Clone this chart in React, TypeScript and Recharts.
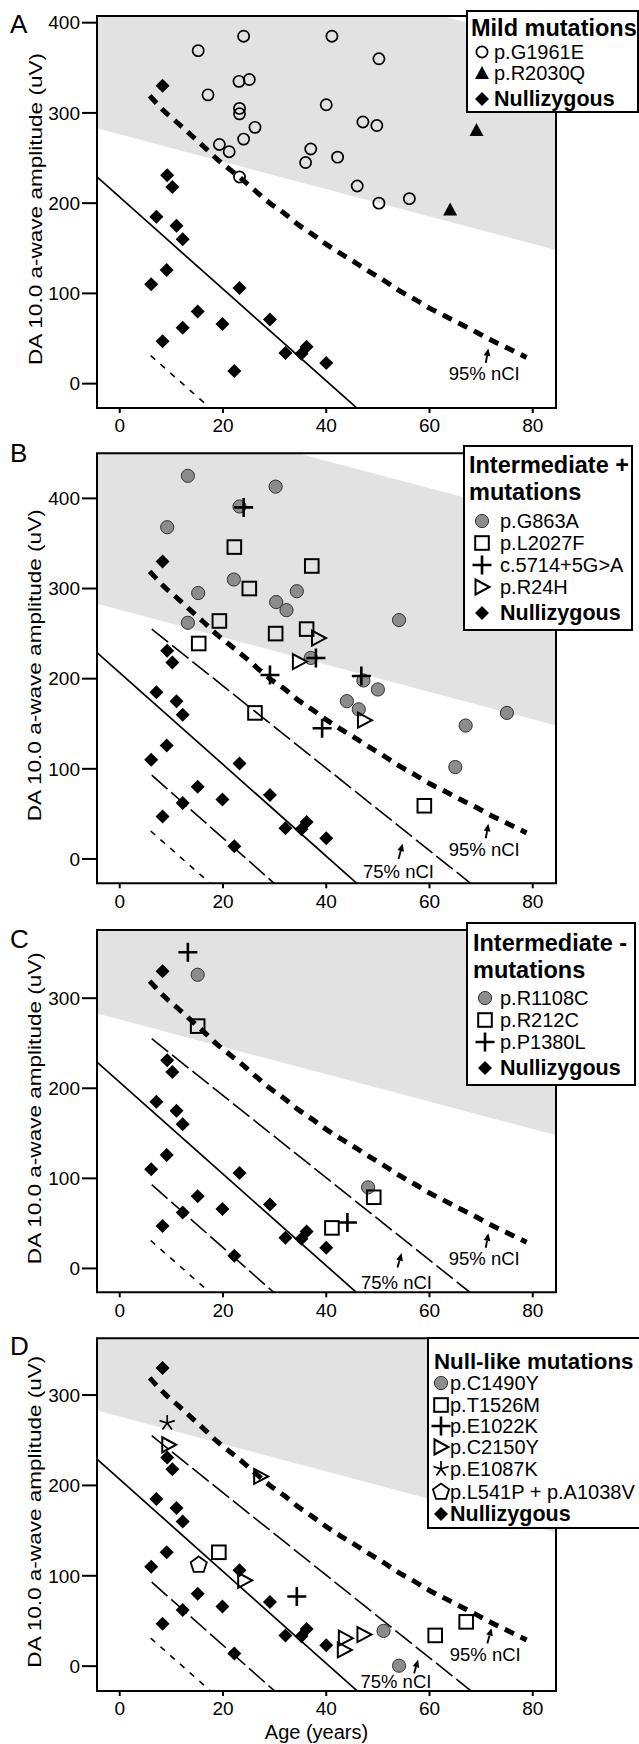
import React from 'react';
import {
  ComposedChart,
  Scatter,
  Line,
  Area,
  XAxis,
  YAxis,
  ReferenceArea,
  ReferenceDot,
  ReferenceLine,
  Legend,
} from 'recharts';

const FONT = '"Liberation Sans", Arial, Helvetica, sans-serif';
const X_DOMAIN = [-4.4, 84.5];
const X_TICKS = [0, 20, 40, 60, 80];

// normal range band (edges at the x-domain limits)
const bandAge = [-4.4, 84.5];
const bandLow = [283, 148];
const bandHigh = [509, 374];

// reference lines
const solidAge = [-4.4, 46.5];
const solidAmp = [229, -30];
const shortDashAge = [6, 18.1];
const shortDashAmp = [31, -30];
const longUpperAge = [6.2, 68.6];
const longUpperAmp = [255, -30];
const longLowerAge = [6.2, 30.5];
const longLowerAmp = [93, -30];
const ci95Age = [5.8, 8.8, 11.4, 13.9, 16.4, 18.8, 21.4, 24, 26.6, 29.1, 31.8, 34.4, 37.2, 40.1, 42.8, 45.4, 48.1, 51, 53.9, 57, 59.9, 63, 66, 69.1, 72, 74.9, 78.8];
const ci95Amp = [319, 301, 288, 275, 262, 249, 237, 225, 212, 200, 189, 177, 166, 154, 144, 135, 125, 115, 104, 94, 84, 75, 66, 57, 48, 40, 29];

// nullizygous (all panels)
const nullAge = [8.3, 9.2, 10.2, 7.1, 11, 12.2, 9.1, 6.1, 23.2, 15.1, 19.9, 12.2, 29.1, 8.3, 22.2, 32.1, 35.2, 36.2, 40];
const nullAmp = [330, 231, 218, 185, 175, 160, 126, 110, 106, 80, 66, 62, 71, 47, 14, 34, 33, 41, 23];

// A: mild
const g1961eAge = [15.2, 24, 41.1, 50.2, 23.1, 25.1, 17.1, 40, 23.2, 23.2, 26.2, 47.1, 49.8, 19.3, 21.2, 24, 37, 36, 42.2, 23.2, 46, 50.2, 56.1];
const g1961eAmp = [369, 385, 385, 360, 335, 337, 320, 309, 305, 299, 284, 290, 286, 265, 257, 271, 260, 245, 251, 229, 219, 200, 205];
const r2030qAge = [69.1, 64];
const r2030qAmp = [281, 193];

// B: intermediate +
const g863aAge = [13.2, 30.2, 23.2, 9.2, 22.1, 15.2, 34.3, 30.3, 32.3, 13.2, 54.1, 37, 47.2, 50, 44, 46.3, 67, 75, 65];
const g863aAmp = [425, 413, 391, 368, 310, 295, 297, 285, 276, 262, 265, 223, 198, 188, 175, 166, 148, 162, 102];
const l2027fAge = [22.2, 37.2, 25.1, 19.3, 15.3, 30.2, 36.2, 26.2, 59];
const l2027fAmp = [346, 325, 300, 264, 239, 250, 255, 162, 59];
const c5714Age = [24, 29.1, 38, 46.8, 39.2];
const c5714Amp = [390, 204, 223, 203, 145];
const r24hAge = [38.5, 34.8, 47.4];
const r24hAmp = [245, 219, 154];

// C: intermediate -
const r1108cAge = [15.1, 48.1];
const r1108cAmp = [326, 90];
const r212cAge = [15.1, 49.2, 41.1];
const r212cAmp = [269, 79, 45];
const p1380lAge = [13.2, 44.1];
const p1380lAmp = [351, 51];

// D: null-like
const c1490yAge = [51.1, 54.1];
const c1490yAmp = [39, 0.5];
const t1526mAge = [19.2, 61.1, 67.1];
const t1526mAmp = [126, 34, 49];
const e1022kAge = [34.3];
const e1022kAmp = [77];
const c2150yAge = [9.5, 27.3, 24.2, 43.7, 43.5, 47.3];
const c2150yAmp = [245, 210, 95, 31, 18, 35];
const e1087kAge = [9.2];
const e1087kAmp = [269];
const l541pAge = [15.3];
const l541pAmp = [112];

const pts = (ages: number[], amps: number[]) => ages.map((a, i) => ({ age: a, amp: amps[i] }));
const bandData = bandAge.map((a, i) => ({ age: a, band: [bandLow[i], bandHigh[i]] }));

function Marker({ kind, cx, cy }: { kind: string; cx: number; cy: number }) {
  switch (kind) {
    case 'openCircle':
      return <circle cx={cx} cy={cy} r={5.6} fill="none" stroke="#000" strokeWidth={1.7} />;
    case 'grayCircle':
      return <circle cx={cx} cy={cy} r={6.6} fill="#8c8c8c" stroke="#333" strokeWidth={1} />;
    case 'triangle':
      return <polygon points={`${cx},${cy - 7} ${cx + 7},${cy + 6} ${cx - 7},${cy + 6}`} fill="#000" />;
    case 'diamond':
      return <polygon points={`${cx},${cy - 7} ${cx + 7},${cy} ${cx},${cy + 7} ${cx - 7},${cy}`} fill="#000" />;
    case 'square':
      return <rect x={cx - 6.8} y={cy - 6.8} width={13.6} height={13.6} fill="none" stroke="#000" strokeWidth={2} />;
    case 'plus':
      return <path d={`M${cx - 9.5},${cy}H${cx + 9.5}M${cx},${cy - 9.5}V${cy + 9.5}`} stroke="#000" strokeWidth={2.6} fill="none" />;
    case 'rightTri':
      return <polygon points={`${cx - 6.5},${cy - 7.5} ${cx + 7.5},${cy} ${cx - 6.5},${cy + 7.5}`} fill="none" stroke="#000" strokeWidth={2} />;
    case 'star': {
      const arms = [-90, -18, 54, 126, 198].map((deg) => {
        const r = (deg * Math.PI) / 180;
        return `M${cx},${cy}L${cx + 8 * Math.cos(r)},${cy + 8 * Math.sin(r)}`;
      });
      return <path d={arms.join('')} stroke="#000" strokeWidth={1.7} fill="none" />;
    }
    case 'pentagon': {
      const p = [-90, -18, 54, 126, 198]
        .map((deg) => {
          const r = (deg * Math.PI) / 180;
          return `${cx + 8.5 * Math.cos(r)},${cy + 8.5 * Math.sin(r)}`;
        })
        .join(' ');
      return <polygon points={p} fill="none" stroke="#000" strokeWidth={1.8} />;
    }
    default:
      return null;
  }
}

const ArrowShape = (props: any) => {
  const { x1, y1, x2, y2 } = props;
  const ang = Math.atan2(y2 - y1, x2 - x1);
  const len = 7.5;
  const w = 3.4;
  const bx = x2 - len * Math.cos(ang);
  const by = y2 - len * Math.sin(ang);
  const px = -Math.sin(ang) * w;
  const py = Math.cos(ang) * w;
  return (
    <g>
      <line x1={x1} y1={y1} x2={bx} y2={by} stroke="#000" strokeWidth={1.9} />
      <polygon points={`${x2},${y2} ${bx + px},${by + py} ${bx - px},${by - py}`} fill="#000" />
    </g>
  );
};

const renderYLabel = (props: any) => {
  const vb = props.viewBox;
  const cx = vb.x + 18;
  const cy = vb.y + vb.height / 2 - 3;
  return (
    <text
      x={cx}
      y={cy}
      transform={`rotate(-90 ${cx} ${cy})`}
      textAnchor="middle"
      dominantBaseline="central"
      fontSize={19}
      fontFamily={FONT}
      fill="#000"
      textLength={312}
      lengthAdjust="spacingAndGlyphs"
    >
      DA 10.0 a-wave amplitude (uV)
    </text>
  );
};

const renderXLabel = (props: any) => {
  const vb = props.viewBox;
  return (
    <text x={vb.x + vb.width / 2 - 10} y={vb.y + 48} textAnchor="middle" fontSize={20} fontFamily={FONT} fill="#000">
      Age (years)
    </text>
  );
};

type Item = { kind: string; label: string; y: number; bold?: boolean };
type LegendSpec = {
  x: number; y: number; w: number; h: number;
  titleX: number; titleSize: number; titles: { text: string; y: number }[];
  symX: number; textX: number; items: Item[];
};

function LegendBox({ spec }: { spec: LegendSpec }) {
  const ox = spec.x + 2;
  const oy = spec.y + 2;
  return (
    <div
      style={{
        position: 'relative',
        width: spec.w,
        height: spec.h,
        boxSizing: 'border-box',
        border: '2px solid #000',
        background: '#fff',
        fontFamily: FONT,
        color: '#000',
      }}
    >
      {spec.titles.map((t) => (
        <div
          key={t.text}
          style={{
            position: 'absolute', left: spec.titleX - ox, top: t.y - oy - 14,
            fontSize: spec.titleSize, fontWeight: 700, lineHeight: '28px', whiteSpace: 'nowrap',
          }}
        >
          {t.text}
        </div>
      ))}
      {spec.items.map((it) => (
        <React.Fragment key={it.label}>
          <svg width={22} height={22} style={{ position: 'absolute', left: spec.symX - ox - 11, top: it.y - oy - 11 }}>
            <Marker kind={it.kind} cx={11} cy={11} />
          </svg>
          <div
            style={{
              position: 'absolute', left: spec.textX - ox, top: it.y - oy - 12,
              fontSize: it.bold ? 21.5 : 20, fontWeight: it.bold ? 700 : 400, lineHeight: '24px', whiteSpace: 'nowrap',
            }}
          >
            {it.label}
          </div>
        </React.Fragment>
      ))}
    </div>
  );
}

type Series = { name: string; kind: string; data: { age: number; amp: number }[] };
type Ann = { label: string; text: number[]; tail: number[]; tip: number[] };
type PanelSpec = {
  letter: string; letterTop: number;
  top: number; height: number; marginTop: number; axisH: number;
  yDomain: number[]; yTicks: number[];
  longLines: boolean; ageLabel: boolean;
  series: Series[]; legend: LegendSpec; anns: Ann[];
};

const nullSeries: Series = { name: 'Nullizygous', kind: 'diamond', data: pts(nullAge, nullAmp) };

const panels: PanelSpec[] = [
  {
    letter: 'A', letterTop: 11, top: 0, height: 436, marginTop: 16, axisH: 28,
    yDomain: [-27, 407.4], yTicks: [0, 100, 200, 300, 400], longLines: false, ageLabel: false,
    series: [
      { name: 'p.G1961E', kind: 'openCircle', data: pts(g1961eAge, g1961eAmp) },
      { name: 'p.R2030Q', kind: 'triangle', data: pts(r2030qAge, r2030qAmp) },
      nullSeries,
    ],
    legend: {
      x: 466, y: 10, w: 173, h: 103, titleX: 471, titleSize: 23.5, titles: [{ text: 'Mild mutations', y: 27.5 }],
      symX: 482, textX: 494,
      items: [
        { kind: 'openCircle', label: 'p.G1961E', y: 51.7 },
        { kind: 'triangle', label: 'p.R2030Q', y: 72.7 },
        { kind: 'diamond', label: 'Nullizygous', y: 99, bold: true },
      ],
    },
    anns: [{ label: '95% nCI', text: [70.6, 11], tail: [70.9, 23], tip: [71.4, 39] }],
  },
  {
    letter: 'B', letterTop: 440, top: 436, height: 476, marginTop: 17.3, axisH: 28.7,
    yDomain: [-27, 450], yTicks: [0, 100, 200, 300, 400], longLines: true, ageLabel: false,
    series: [
      { name: 'p.G863A', kind: 'grayCircle', data: pts(g863aAge, g863aAmp) },
      { name: 'p.L2027F', kind: 'square', data: pts(l2027fAge, l2027fAmp) },
      { name: 'c.5714+5G>A', kind: 'plus', data: pts(c5714Age, c5714Amp) },
      { name: 'p.R24H', kind: 'rightTri', data: pts(r24hAge, r24hAmp) },
      nullSeries,
    ],
    legend: {
      x: 463.3, y: 9, w: 170, h: 186, titleX: 469, titleSize: 23.5,
      titles: [{ text: 'Intermediate +', y: 29 }, { text: 'mutations', y: 55.7 }],
      symX: 482, textX: 500,
      items: [
        { kind: 'grayCircle', label: 'p.G863A', y: 84.7 },
        { kind: 'square', label: 'p.L2027F', y: 107.3 },
        { kind: 'plus', label: 'c.5714+5G>A', y: 129 },
        { kind: 'rightTri', label: 'p.R24H', y: 150.7 },
        { kind: 'diamond', label: 'Nullizygous', y: 177.3, bold: true },
      ],
    },
    anns: [
      { label: '95% nCI', text: [70.6, 11], tail: [70.9, 23], tip: [71.4, 39] },
      { label: '75% nCI', text: [54, -14], tail: [54, 0], tip: [54.8, 17] },
    ],
  },
  {
    letter: 'C', letterTop: 926, top: 912, height: 408, marginTop: 18, axisH: 27.7,
    yDomain: [-26.5, 375.7], yTicks: [0, 100, 200, 300], longLines: true, ageLabel: false,
    series: [
      { name: 'p.R1108C', kind: 'grayCircle', data: pts(r1108cAge, r1108cAmp) },
      { name: 'p.R212C', kind: 'square', data: pts(r212cAge, r212cAmp) },
      { name: 'p.P1380L', kind: 'plus', data: pts(p1380lAge, p1380lAmp) },
      nullSeries,
    ],
    legend: {
      x: 465.8, y: 10.3, w: 170, h: 164, titleX: 473, titleSize: 23.5,
      titles: [{ text: 'Intermediate -', y: 31.3 }, { text: 'mutations', y: 58 }],
      symX: 485, textX: 500,
      items: [
        { kind: 'grayCircle', label: 'p.R1108C', y: 86.3 },
        { kind: 'square', label: 'p.R212C', y: 108 },
        { kind: 'plus', label: 'p.P1380L', y: 129.7 },
        { kind: 'diamond', label: 'Nullizygous', y: 155.7, bold: true },
      ],
    },
    anns: [
      { label: '95% nCI', text: [70.6, 11], tail: [70.9, 23], tip: [71.4, 39] },
      { label: '75% nCI', text: [53.6, -16], tail: [53.8, 1], tip: [54.6, 17] },
    ],
  },
  {
    letter: 'D', letterTop: 1333, top: 1320, height: 424, marginTop: 18.3, axisH: 53,
    yDomain: [-27.5, 362.8], yTicks: [0, 100, 200, 300], longLines: true, ageLabel: true,
    series: [
      { name: 'p.C1490Y', kind: 'grayCircle', data: pts(c1490yAge, c1490yAmp) },
      { name: 'p.T1526M', kind: 'square', data: pts(t1526mAge, t1526mAmp) },
      { name: 'p.E1022K', kind: 'plus', data: pts(e1022kAge, e1022kAmp) },
      { name: 'p.C2150Y', kind: 'rightTri', data: pts(c2150yAge, c2150yAmp) },
      { name: 'p.E1087K', kind: 'star', data: pts(e1087kAge, e1087kAmp) },
      { name: 'p.L541P + p.A1038V', kind: 'pentagon', data: pts(l541pAge, l541pAmp) },
      nullSeries,
    ],
    legend: {
      x: 427.3, y: 17.3, w: 240, h: 192, titleX: 434, titleSize: 22.3,
      titles: [{ text: 'Null-like mutations', y: 41.7 }],
      symX: 441, textX: 450,
      items: [
        { kind: 'grayCircle', label: 'p.C1490Y', y: 62.7 },
        { kind: 'square', label: 'p.T1526M', y: 85 },
        { kind: 'plus', label: 'p.E1022K', y: 106 },
        { kind: 'rightTri', label: 'p.C2150Y', y: 127.3 },
        { kind: 'star', label: 'p.E1087K', y: 149.3 },
        { kind: 'pentagon', label: 'p.L541P + p.A1038V', y: 171.7 },
        { kind: 'diamond', label: 'Nullizygous', y: 194.3, bold: true },
      ],
    },
    anns: [
      { label: '95% nCI', text: [70.8, 13], tail: [71.2, 25], tip: [72, 42] },
      { label: '75% nCI', text: [53.5, -17], tail: [57, -8], tip: [57.8, 7] },
    ],
  },
];

function Panel({ p }: { p: PanelSpec }) {
  const lineProps = { dataKey: 'amp', type: 'linear' as const, stroke: '#000', dot: false, activeDot: false, isAnimationActive: false };
  return (
    <div style={{ position: 'absolute', left: 0, top: p.top, width: 639, height: p.height }}>
      <ComposedChart
        width={639}
        height={p.height}
        data={bandData}
        margin={{ top: p.marginTop, right: 83, bottom: 0, left: 17 }}
      >
        <XAxis
          dataKey="age"
          type="number"
          domain={X_DOMAIN}
          allowDataOverflow
          ticks={X_TICKS}
          interval={0}
          height={p.axisH}
          axisLine={false}
          tickSize={5}
          tickMargin={6}
          tickLine={{ stroke: '#000', strokeWidth: 2 }}
          tick={{ fill: '#000', fontSize: 19, fontFamily: FONT }}
          label={p.ageLabel ? renderXLabel : undefined}
        />
        <YAxis
          type="number"
          domain={p.yDomain}
          allowDataOverflow
          ticks={p.yTicks}
          interval={0}
          width={80}
          axisLine={false}
          tickSize={15}
          tickMargin={2}
          tickLine={{ stroke: '#000', strokeWidth: 2 }}
          tick={{ fill: '#000', fontSize: 19, fontFamily: FONT }}
          label={renderYLabel}
        />
        <Area dataKey="band" type="linear" stroke="none" fill="#e2e2e2" fillOpacity={1} isAnimationActive={false} activeDot={false} />
        <Line {...lineProps} data={pts(solidAge, solidAmp)} strokeWidth={1.7} />
        <Line {...lineProps} data={pts(shortDashAge, shortDashAmp)} strokeWidth={1.6} strokeDasharray="6 7" />
        {p.longLines && <Line {...lineProps} data={pts(longUpperAge, longUpperAmp)} strokeWidth={1.6} strokeDasharray="21 5" />}
        {p.longLines && <Line {...lineProps} data={pts(longLowerAge, longLowerAmp)} strokeWidth={1.6} strokeDasharray="21 5" />}
        <Line {...lineProps} type="monotone" data={pts(ci95Age, ci95Amp)} strokeWidth={5} strokeDasharray="10 7.5" />
        {p.series.map((s) => (
          <Scatter
            key={s.name}
            name={s.name}
            data={s.data}
            dataKey="amp"
            isAnimationActive={false}
            shape={(props: any) => <Marker kind={s.kind} cx={props.cx} cy={props.cy} />}
          />
        ))}
        {p.anns.map((a) => (
          <ReferenceLine
            key={`arrow-${a.label}`}
            segment={[{ x: a.tail[0], y: a.tail[1] }, { x: a.tip[0], y: a.tip[1] }]}
            ifOverflow="visible"
            shape={ArrowShape}
          />
        ))}
        {p.anns.map((a) => (
          <ReferenceDot
            key={`text-${a.label}`}
            x={a.text[0]}
            y={a.text[1]}
            ifOverflow="visible"
            shape={(props: any) => (
              <text x={props.cx} y={props.cy} textAnchor="middle" dominantBaseline="central" fontSize={18.5} fontFamily={FONT} fill="#000">
                {a.label}
              </text>
            )}
          />
        ))}
        <ReferenceArea
          x1={X_DOMAIN[0]}
          x2={X_DOMAIN[1]}
          y1={p.yDomain[0]}
          y2={p.yDomain[1]}
          ifOverflow="visible"
          fill="none"
          fillOpacity={0}
          stroke="#000"
          strokeWidth={2}
        />
        <Legend
          layout="horizontal"
          verticalAlign="middle"
          align="center"
          wrapperStyle={{ left: p.legend.x, top: p.legend.y, width: p.legend.w, height: p.legend.h, margin: 0, padding: 0 }}
          content={() => <LegendBox spec={p.legend} />}
        />
      </ComposedChart>
    </div>
  );
}

export default function App() {
  return (
    <div
      style={{
        position: 'absolute', left: 0, top: 0, width: 639, height: 1744,
        overflow: 'hidden', background: '#fff', fontFamily: FONT,
      }}
    >
      {panels.map((p) => (
        <Panel key={p.letter} p={p} />
      ))}
      {panels.map((p) => (
        <div
          key={`letter-${p.letter}`}
          style={{ position: 'absolute', left: 10, top: p.letterTop, fontSize: 26, lineHeight: '26px', color: '#000' }}
        >
          {p.letter}
        </div>
      ))}
    </div>
  );
}
